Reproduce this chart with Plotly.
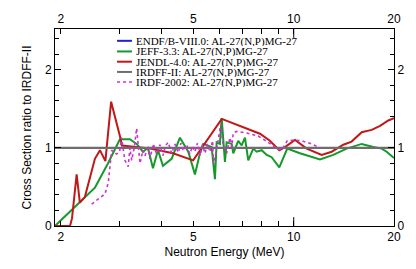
import plotly.graph_objects as go
import math

# ---------------- data ----------------
series_names = [
    "ENDF/B-VIII.0: AL-27(N,P)MG-27",
    "JEFF-3.3: AL-27(N,P)MG-27",
    "JENDL-4.0: AL-27(N,P)MG-27",
    "IRDFF-II: AL-27(N,P)MG-27",
    "IRDF-2002: AL-27(N,P)MG-27",
]
series_colors = ["#2222cc", "#15992a", "#c01818", "#6e6e6e", "#cc33cc"]

energy_endf = [1.92, 20.0]
ratio_endf = [1.0, 1.0]

energy_irdff = [1.92, 20.0]
ratio_irdff = [1.0, 1.0]

energy_jendl = [1.92, 2.13, 2.16, 2.23, 2.28, 2.36, 2.53, 2.62, 2.72, 2.83, 3.02, 3.05,
                3.70, 4.34, 4.99, 6.08, 7.92, 8.48, 9.05, 9.41, 10.09, 10.94, 12.13,
                13.0, 14.09, 14.92, 16.0, 17.14, 18.16, 19.23, 20.0]
ratio_jendl = [0.0, 0.0, 0.10, 0.66, 0.30, 0.37, 0.86, 0.97, 0.83, 1.59, 1.12, 1.03,
               0.99, 0.93, 0.84, 1.37, 1.18, 1.09, 0.97, 1.01, 1.10, 0.99, 0.91,
               0.95, 1.04, 1.08, 1.20, 1.23, 1.28, 1.35, 1.38]

energy_jeff = [1.92, 2.174, 2.53, 2.768, 3.007, 3.223, 3.376, 3.527, 3.650, 3.779, 3.912,
               4.049, 4.300, 4.554, 4.824, 5.052, 5.229, 5.350, 5.670, 5.801, 5.870,
               6.004, 6.076, 6.216, 6.290, 6.512, 6.584, 6.814, 6.977, 7.138, 7.303,
               7.559, 7.738, 8.012, 8.294, 8.585, 9.050, 9.563, 10.44, 11.99, 13.14,
               14.42, 16.00, 17.34, 18.37, 19.01, 20.0]
ratio_jeff = [0.0, 0.22, 0.49, 0.80, 1.11, 1.11, 1.05, 0.95, 1.00, 0.74, 0.97,
              0.77, 0.86, 1.13, 0.95, 0.66, 0.93, 1.05, 1.01, 0.60, 1.07,
              1.05, 1.38, 0.82, 1.07, 1.05, 0.93, 1.09, 1.03, 1.13, 0.84,
              0.99, 0.95, 0.97, 0.91, 0.88, 0.75, 0.99, 0.93, 0.85, 0.91,
              0.99, 1.05, 1.01, 0.99, 0.95, 0.87]

energy_irdf = [2.474, 2.712, 2.774, 2.841, 2.940, 3.0, 3.043, 3.113, 3.185, 3.223,
               3.262, 3.32, 3.376, 3.455, 3.527, 3.575, 3.650, 3.701, 3.787, 3.877,
               3.966, 4.049, 4.120, 4.201, 4.300, 4.398, 4.500, 4.585, 4.658, 4.769,
               4.879, 4.964, 5.052, 5.140, 5.229, 5.320, 5.414, 5.509, 5.603, 5.709,
               5.740, 5.801, 5.884, 6.034, 6.143, 6.290, 6.436, 6.512, 6.584, 6.742,
               7.224, 7.826, 8.385, 8.888, 9.200, 9.563, 10.09, 10.56, 11.32, 11.99]
ratio_irdf = [0.28, 0.41, 0.55, 0.97, 0.92, 0.95, 1.13, 0.84, 0.76, 1.00,
              0.84, 1.00, 1.25, 0.80, 0.97, 0.90, 1.00, 0.86, 1.05, 0.92,
              1.04, 0.90, 1.03, 1.07, 0.93, 1.05, 0.94, 1.06, 0.96, 1.04,
              0.92, 1.02, 0.95, 1.06, 0.90, 1.04, 0.93, 1.05, 0.95, 1.09,
              0.80, 0.88, 1.00, 1.30, 1.03, 0.93, 1.13, 1.01, 1.19, 1.21,
              1.19, 1.15, 1.07, 0.99, 0.97, 1.09, 1.10, 1.09, 1.05, 1.00]

x_tick_vals = [2, 5, 10, 20]
x_tick_text = ["2", "5", "10", "20"]
x_minor_vals = [3, 4, 6, 7, 8, 9]
y_tick_vals = [0, 1, 2]
x_range = [1.92, 20.0]
y_range = [0.0, 2.52]

# ---------------- figure ----------------
fig = go.Figure()
series = [
    (energy_endf, ratio_endf, 1.5, "solid"),
    (energy_jeff, ratio_jeff, 2, "solid"),
    (energy_jendl, ratio_jendl, 2, "solid"),
    (energy_irdff, ratio_irdff, 2.2, "solid"),
    (energy_irdf, ratio_irdf, 1.6, "dot"),
]
for (xs, ys, w, dash), name, col in zip(series, series_names, series_colors):
    fig.add_trace(go.Scatter(x=xs, y=ys, mode="lines", name=name,
                             line=dict(color=col, width=w, dash=dash),
                             showlegend=False, hoverinfo="skip"))

# invisible trace to anchor the mirrored axes
fig.add_trace(go.Scatter(x=[x_tick_vals[0]], y=[y_tick_vals[1]], xaxis="x2", yaxis="y2",
                         mode="markers", marker=dict(opacity=0), showlegend=False,
                         hoverinfo="skip"))

tick_font = dict(family="Liberation Sans, Arial, sans-serif", size=12, color="black")
xr = [math.log10(x_range[0]), math.log10(x_range[1])]

xcommon = dict(type="log", range=xr, tickmode="array", tickvals=x_tick_vals,
               ticktext=x_tick_text, ticks="inside", ticklen=5, tickcolor="black",
               showgrid=False, zeroline=False, showline=True, linecolor="black",
               linewidth=1, tickfont=tick_font,
               minor=dict(tickmode="array", tickvals=x_minor_vals, ticks="inside",
                          ticklen=5, tickcolor="black", showgrid=False))
ycommon = dict(range=y_range, tickmode="array", tickvals=y_tick_vals, ticks="inside",
               ticklen=6, tickcolor="black", showgrid=False, zeroline=False,
               showline=True, linecolor="black", linewidth=1, tickfont=tick_font,
               minor=dict(dtick=0.2, ticks="inside", ticklen=4, tickcolor="black",
                          showgrid=False))

fig.update_layout(
    width=416, height=269,
    margin=dict(l=55, r=22, t=16, b=37),
    paper_bgcolor="white", plot_bgcolor="white",
    showlegend=False,
    xaxis=dict(**xcommon, title=dict(text="Neutron Energy (MeV)",
                                     font=dict(family="Liberation Sans, Arial, sans-serif",
                                               size=12, color="black"),
                                     standoff=4)),
    xaxis2=dict(**xcommon, overlaying="x", side="top", anchor="y"),
    yaxis=dict(**ycommon, title=dict(text="Cross Section ratio to IRDFF-II",
                                     font=dict(family="Liberation Sans, Arial, sans-serif",
                                               size=12, color="black"),
                                     standoff=10)),
    yaxis2=dict(**ycommon, overlaying="y", side="right", anchor="x"),
)

# longer decade tick at 10 (bottom and top)
for y0, y1 in [(0, 0.045), (1 - 0.045, 1)]:
    fig.add_shape(type="line", xref="x", yref="paper", x0=10, x1=10, y0=y0, y1=y1,
                  line=dict(color="black", width=1))

# manual legend
leg_y = [0.940, 0.886, 0.834, 0.782, 0.731]
for name, col, (xs, ys, w, dash), yy in zip(series_names, series_colors, series, leg_y):
    fig.add_shape(type="line", xref="paper", yref="paper", x0=0.183, x1=0.227,
                  y0=yy, y1=yy, line=dict(color=col, width=2 if dash == "solid" else 1.6,
                                          dash=dash))
    fig.add_annotation(x=0.236, y=yy, xref="paper", yref="paper", text=name,
                       showarrow=False, xanchor="left", yanchor="middle",
                       height=10, borderpad=0,
                       font=dict(family="Liberation Serif, Times New Roman, serif",
                                 size=11, color="black"))

fig.write_html("out.html", config={"displayModeBar": False},
               post_script="document.body.style.margin='0';document.body.style.padding='0';")
